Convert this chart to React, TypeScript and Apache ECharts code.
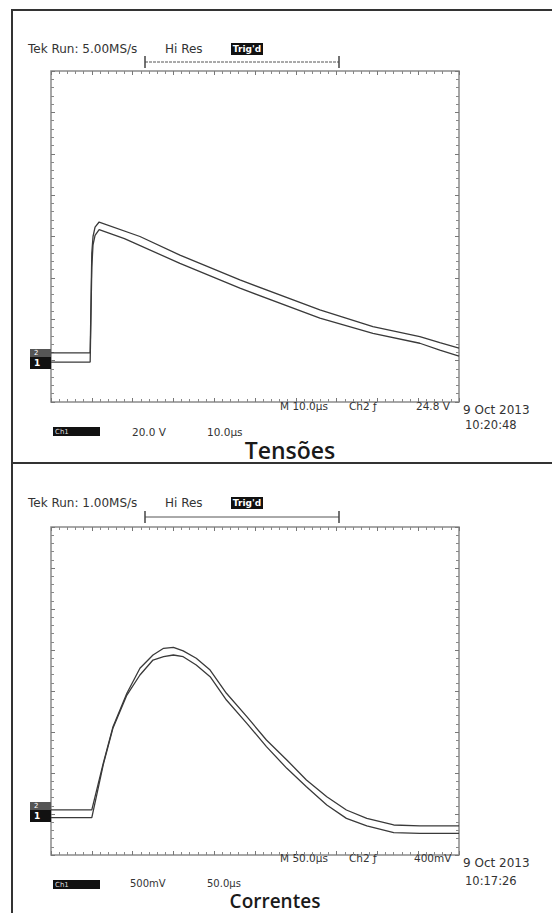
import React, { useEffect, useRef } from "react";
import * as echarts from "echarts";

// Tensões: time (µs, 10 µs/div) and level (V, 20 V/div)
const tensaoCh2Tempo = [0, 9.6, 10.0, 10.3, 10.8, 11.8, 21.8, 31.6, 46.3, 65.9, 78.9, 90.4, 95.3, 100];
const tensaoCh2Valor = [3.7, 3.7, 52, 60, 64.5, 67, 60, 51, 39, 24.5, 16.4, 11.6, 8.7, 6.1];
const tensaoCh1Tempo = [0, 9.6, 10.0, 10.3, 10.8, 11.8, 18, 31.6, 46.3, 65.9, 78.9, 90.4, 95.3, 100];
const tensaoCh1Valor = [-0.7, -0.7, 45, 56, 60.5, 63.3, 59, 47, 35, 20.5, 13.2, 8.4, 5.1, 2.2];

// Correntes: time (µs, 50 µs/div) and level (mV, 500 mV/div)
const correnteTempo = [0, 50, 64, 76, 93, 109, 125, 138, 150, 162, 178, 195, 215, 240, 264, 289, 313, 338, 362, 387, 420, 452, 500];
const correnteCh2Valor = [50, 50, 618, 1065, 1472, 1777, 1939, 2021, 2033, 1990, 1899, 1756, 1472, 1187, 902, 659, 415, 211, 49, -53, -134, -146, -146];
const correnteCh1Valor = [-45, -45, 600, 1050, 1450, 1695, 1878, 1918, 1939, 1918, 1817, 1675, 1390, 1106, 821, 557, 333, 110, -53, -146, -228, -236, -236];

const zip = (xs: number[], ys: number[]) => xs.map((x, i) => [x, ys[i]]);

const SCREEN_FONT = '"DejaVu Sans", sans-serif';
const TITLE_FONT = '"Open Sans", "Noto Sans", sans-serif';

const tickAxis = {
  type: "value" as const,
  axisLabel: { show: false },
  axisLine: { show: false, onZero: false },
  splitLine: { show: false },
  axisTick: { show: true, inside: true, length: 4, lineStyle: { color: "#777", width: 1 } },
  minorTick: { show: true, splitNumber: 5, length: 3, lineStyle: { color: "#888", width: 1 } },
};

const traceStyle = (color: string) => ({
  type: "line" as const,
  symbol: "none",
  showSymbol: false,
  silent: true,
  lineStyle: { color, width: 1.3 },
});

function screenText(text: string, x: number, y: number, size = 11, fill = "#333", align = "left") {
  return {
    type: "text",
    x,
    y,
    silent: true,
    style: {
      text,
      font: `${size}px ${SCREEN_FONT}`,
      fill,
      textAlign: align,
      textVerticalAlign: "middle",
    },
  };
}

function blackBox(x: number, y: number, w: number, h: number, label: string) {
  return {
    type: "group",
    silent: true,
    children: [
      { type: "rect", shape: { x, y, width: w, height: h }, style: { fill: "#111" } },
      {
        type: "text",
        x: x + w / 2,
        y: y + h / 2,
        style: { text: label, font: `bold 9px ${SCREEN_FONT}`, fill: "#fff", textAlign: "center", textVerticalAlign: "middle" },
      },
    ],
  };
}

function channelBox(x: number, y: number) {
  return {
    type: "group",
    silent: true,
    children: [
      { type: "rect", shape: { x, y, width: 21, height: 8 }, style: { fill: "#555" } },
      { type: "rect", shape: { x, y: y + 8, width: 21, height: 12 }, style: { fill: "#111" } },
      { type: "text", x: x + 4, y: y + 4, style: { text: "2", font: `7px ${SCREEN_FONT}`, fill: "#fff", textVerticalAlign: "middle" } },
      { type: "text", x: x + 4, y: y + 14, style: { text: "1", font: `bold 9px ${SCREEN_FONT}`, fill: "#fff", textVerticalAlign: "middle" } },
    ],
  };
}

function bracket(x1: number, x2: number, y: number, dashed: boolean) {
  return {
    type: "group",
    silent: true,
    children: [
      { type: "line", shape: { x1, y1: y, x2, y2: y }, style: { stroke: "#555", lineWidth: 1, lineDash: dashed ? [3, 1] : null } },
      { type: "line", shape: { x1, y1: y - 6, x2: x1, y2: y + 6 }, style: { stroke: "#444", lineWidth: 1.5 } },
      { type: "line", shape: { x1: x2, y1: y - 6, x2, y2: y + 6 }, style: { stroke: "#444", lineWidth: 1.5 } },
    ],
  };
}

function headerTexts(y: number, rate: string) {
  return [
    screenText(`Tek Run: ${rate}`, 28, y, 12, "#333"),
    screenText("Hi Res", 165, y, 12, "#333"),
    blackBox(231, y - 6, 32, 12, "Trig'd"),
  ];
}

export default function App() {
  const ref = useRef<HTMLDivElement>(null);

  useEffect(() => {
    if (!ref.current) return;
    const chart = echarts.init(ref.current, undefined, { renderer: "svg" });

    const graphic: any[] = [
      // outer frame and divider
      { type: "line", silent: true, shape: { x1: 11, y1: 10, x2: 552, y2: 10 }, style: { stroke: "#333", lineWidth: 2 } },
      { type: "line", silent: true, shape: { x1: 12, y1: 10, x2: 12, y2: 913 }, style: { stroke: "#333", lineWidth: 2 } },
      { type: "line", silent: true, shape: { x1: 11, y1: 463, x2: 552, y2: 463 }, style: { stroke: "#333", lineWidth: 2 } },

      // Tensões panel
      ...headerTexts(49, "5.00MS/s"),
      bracket(145, 339, 62, true),
      channelBox(30, 349),
      screenText("M 10.0µs", 280, 406, 10.5, "#333"),
      screenText("Ch2 ƒ", 349, 406, 10.5, "#333"),
      screenText("24.8 V", 416, 406, 10.5, "#333"),
      screenText("9 Oct 2013", 463, 410, 12, "#333"),
      screenText("10:20:48", 465, 425, 11.5, "#333"),
      { type: "rect", silent: true, shape: { x: 53, y: 427, width: 47, height: 9 }, style: { fill: "#111" } },
      screenText("Ch1", 55, 432, 7, "#ddd"),
      screenText("20.0 V", 132, 432, 10.5, "#333"),
      screenText("10.0µs", 207, 432, 10.5, "#333"),
      {
        type: "text", silent: true, x: 290, y: 450,
        style: { text: "Tensões", font: `600 23px ${TITLE_FONT}`, fill: "#1a1a1a", textAlign: "center", textVerticalAlign: "middle" },
      },

      // Correntes panel
      ...headerTexts(503, "1.00MS/s"),
      bracket(145, 339, 517, false),
      channelBox(30, 802),
      screenText("M 50.0µs", 280, 858, 10.5, "#333"),
      screenText("Ch2 ƒ", 349, 858, 10.5, "#333"),
      screenText("400mV", 414, 858, 10.5, "#333"),
      screenText("9 Oct 2013", 463, 863, 12, "#333"),
      screenText("10:17:26", 465, 881, 11.5, "#333"),
      { type: "rect", silent: true, shape: { x: 53, y: 880, width: 47, height: 9 }, style: { fill: "#111" } },
      screenText("Ch1", 55, 884.5, 7, "#ddd"),
      screenText("500mV", 130, 883.5, 10, "#333"),
      screenText("50.0µs", 207, 883.5, 10, "#333"),
      {
        type: "text", silent: true, x: 275, y: 900.5,
        style: { text: "Correntes", font: `600 19px ${TITLE_FONT}`, fill: "#1a1a1a", textAlign: "center", textVerticalAlign: "middle" },
      },
    ];

    chart.setOption({
      animation: false,
      backgroundColor: "#fff",
      grid: [
        { left: 51, top: 71, width: 408, height: 331, show: true, borderColor: "#8a8a8a", borderWidth: 1.5, backgroundColor: "transparent" },
        { left: 51, top: 527, width: 408, height: 328, show: true, borderColor: "#8a8a8a", borderWidth: 1.5, backgroundColor: "transparent" },
      ],
      xAxis: [
        { ...tickAxis, gridIndex: 0, position: "bottom", min: 0, max: 100, interval: 10 },
        { ...tickAxis, gridIndex: 0, position: "top", min: 0, max: 100, interval: 10 },
        { ...tickAxis, gridIndex: 1, position: "bottom", min: 0, max: 500, interval: 50 },
        { ...tickAxis, gridIndex: 1, position: "top", min: 0, max: 500, interval: 50 },
      ],
      yAxis: [
        { ...tickAxis, gridIndex: 0, position: "left", min: -20, max: 140, interval: 20 },
        { ...tickAxis, gridIndex: 0, position: "right", min: -20, max: 140, interval: 20 },
        { ...tickAxis, gridIndex: 1, position: "left", min: -500, max: 3500, interval: 500 },
        { ...tickAxis, gridIndex: 1, position: "right", min: -500, max: 3500, interval: 500 },
      ],
      series: [
        { ...traceStyle("#3a3a3a"), name: "Ch2 tensão", xAxisIndex: 0, yAxisIndex: 0, data: zip(tensaoCh2Tempo, tensaoCh2Valor) },
        { ...traceStyle("#3a3a3a"), name: "Ch1 tensão", xAxisIndex: 0, yAxisIndex: 0, data: zip(tensaoCh1Tempo, tensaoCh1Valor) },
        { ...traceStyle("#3a3a3a"), name: "Ch2 corrente", xAxisIndex: 2, yAxisIndex: 2, data: zip(correnteTempo, correnteCh2Valor) },
        { ...traceStyle("#3a3a3a"), name: "Ch1 corrente", xAxisIndex: 2, yAxisIndex: 2, data: zip(correnteTempo, correnteCh1Valor) },
      ],
      graphic,
    });

    return () => chart.dispose();
  }, []);

  return (
    <div
      ref={ref}
      style={{ position: "fixed", left: 0, top: 0, width: 552, height: 913, background: "#fff" }}
    />
  );
}
